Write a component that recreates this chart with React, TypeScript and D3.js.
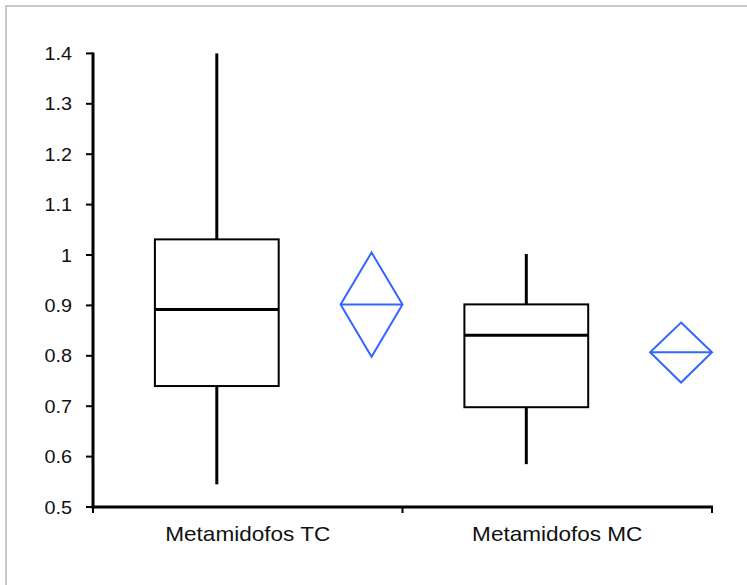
import React, { useEffect } from 'react';
import * as d3 from 'd3';

const width = 747;
const height = 585;

const categories = ['Metamidofos TC', 'Metamidofos MC'];
const whiskerMin = [0.545, 0.585];
const q1 = [0.74, 0.698];
const medians = [0.892, 0.841];
const q3 = [1.031, 0.902];
const whiskerMax = [1.4, 1.002];

// mean diamonds: lower / mean / upper
const meanLow = [0.798, 0.747];
const means = [0.902, 0.807];
const meanHigh = [1.005, 0.866];

const yTicks = [0.5, 0.6, 0.7, 0.8, 0.9, 1, 1.1, 1.2, 1.3, 1.4];

const blue = '#3366ff';
const stretch = 1.1;

export default function App() {
  useEffect(() => {
    document.body.style.margin = '0';
  }, []);

  const y = d3.scaleLinear().domain([0.5, 1.4]).range([507, 53.4]);
  const x = d3.scaleBand().domain(categories).range([93, 712]).padding(0);
  const bw = x.bandwidth();

  return (
    <svg width={width} height={height} style={{ display: 'block' }} fontFamily="Arial, 'Liberation Sans', sans-serif">
      <rect x={0} y={0} width={width} height={height} fill="#fff" />
      <rect x={6} y={6} width={900} height={900} fill="none" stroke="#c8c8c8" strokeWidth={2} />

      {/* boxes */}
      {categories.map((c, i) => {
        const cx = x(c)! + bw * 0.4;
        const half = bw * 0.2;
        return (
          <g key={c}>
            <line x1={cx} x2={cx} y1={y(q3[i])} y2={y(whiskerMax[i])} stroke="#000" strokeWidth={3} />
            <line x1={cx} x2={cx} y1={y(q1[i])} y2={y(whiskerMin[i])} stroke="#000" strokeWidth={3} />
            <rect x={cx - half} y={y(q3[i])} width={half * 2} height={y(q1[i]) - y(q3[i])} fill="none" stroke="#000" strokeWidth={2} />
            <line x1={cx - half} x2={cx + half} y1={y(medians[i])} y2={y(medians[i])} stroke="#000" strokeWidth={3} />
          </g>
        );
      })}

      {/* mean diamonds */}
      {categories.map((c, i) => {
        const cx = x(c)! + bw * 0.9;
        const half = bw * 0.1;
        const pts = [
          [cx, y(meanHigh[i])],
          [cx + half, y(means[i])],
          [cx, y(meanLow[i])],
          [cx - half, y(means[i])],
        ];
        return (
          <g key={c + '-mean'}>
            <polygon points={pts.map(p => p.join(',')).join(' ')} fill="none" stroke={blue} strokeWidth={2} />
            <line x1={cx - half} x2={cx + half} y1={y(means[i])} y2={y(means[i])} stroke={blue} strokeWidth={2} />
          </g>
        );
      })}

      {/* y axis */}
      <line x1={93} x2={93} y1={y(1.4) - 1} y2={y(0.5) + 1.5} stroke="#000" strokeWidth={3} />
      {yTicks.map(t => (
        <g key={t}>
          <line x1={86} x2={93} y1={y(t)} y2={y(t)} stroke="#000" strokeWidth={2} />
          <g transform={`translate(72,${y(t) + 6.5}) scale(${stretch},1)`}>
            <text textAnchor="end" fontSize={18} fill="#111">{d3.format('')(t)}</text>
          </g>
        </g>
      ))}

      {/* x axis */}
      <line x1={91.5} x2={713} y1={y(0.5)} y2={y(0.5)} stroke="#000" strokeWidth={3} />
      {[...categories.map(c => x(c)!), 712].map((t, i) => (
        <line key={i} x1={t} x2={t} y1={y(0.5)} y2={y(0.5) + 6} stroke="#000" strokeWidth={2} />
      ))}
      {categories.map(c => (
        <g key={c + '-lbl'} transform={`translate(${x(c)! + bw / 2},540.7) scale(${stretch},1)`}>
          <text textAnchor="middle" fontSize={20.5} fill="#111">{c}</text>
        </g>
      ))}
    </svg>
  );
}
